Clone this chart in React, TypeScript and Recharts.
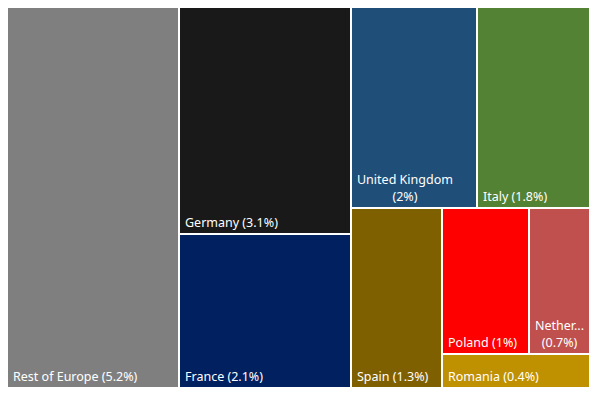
import { Treemap } from "recharts";

const countries = [
  "Rest of Europe",
  "Germany",
  "France",
  "United Kingdom",
  "Italy",
  "Spain",
  "Poland",
  "Netherlands",
  "Romania",
];
const shares = [5.2, 3.1, 2.1, 2, 1.8, 1.3, 1, 0.7, 0.4];
const colors = [
  "#7f7f7f",
  "#191919",
  "#002060",
  "#1f4e79",
  "#548235",
  "#7f6000",
  "#ff0000",
  "#c0504d",
  "#bf9000",
];
// how the tiles are grouped (indices into the arrays above), like Excel's layout
type Group = number | Group[];
const grouping: Group[] = [0, [1, 2], [[3, 4], [5, [[6, 7], 8]]]];

type Node = { name: string; value?: number; color?: string; children?: Node[] };

const build = (g: Group, i: number): Node =>
  typeof g === "number"
    ? { name: countries[g], value: shares[g], color: colors[g] }
    : { name: `group-${i}`, children: g.map((c, j) => build(c, j)) };

const data = grouping.map((g, i) => build(g, i));

const FONT_SIZE = 12.5;
const FONT_FAMILY = "'Noto Sans', 'Open Sans', sans-serif";
let ctx: CanvasRenderingContext2D | null = null;
const measure = (s: string) => {
  if (!ctx) {
    ctx = document.createElement("canvas").getContext("2d");
    if (ctx) ctx.font = `${FONT_SIZE}px ${FONT_FAMILY}`;
  }
  return ctx ? ctx.measureText(s).width : s.length * 6.5;
};

function wrapLabel(text: string, maxW: number) {
  if (measure(text) <= maxW) return [text];
  const words = text.split(" ");
  const lines: string[] = [];
  let cur = "";
  for (const w of words) {
    const next = cur ? `${cur} ${w}` : w;
    if (!cur || measure(next) <= maxW) cur = next;
    else {
      lines.push(cur);
      cur = w;
    }
  }
  if (cur) lines.push(cur);
  return lines.map((l) => {
    if (measure(l) <= maxW) return l;
    let t = l;
    while (t.length > 1 && measure(t + "...") > maxW) t = t.slice(0, -1);
    return t + "...";
  });
}

function Tile(props: any) {
  const { x, y, width, height, name, value, color } = props;
  if (!color) return <g />;
  const lines = wrapLabel(`${name} (${value}%)`, width - 10);
  const blockW = Math.max(...lines.map(measure));
  const cx = x + 6 + blockW / 2;
  const lineH = 17;
  const baseY = y + height - 7;
  return (
    <g>
      <rect x={x} y={y} width={width} height={height} fill={color} stroke="#fff" strokeWidth={2} />
      {lines.map((l, i) => (
        <text
          key={i}
          x={lines.length > 1 ? cx : x + 6}
          y={baseY - (lines.length - 1 - i) * lineH}
          textAnchor={lines.length > 1 ? "middle" : "start"}
          fill="#fff"
          fontSize={FONT_SIZE}
          fontFamily={FONT_FAMILY}
        >
          {l}
        </text>
      ))}
    </g>
  );
}

export default function App() {
  return (
    <div style={{ marginLeft: -1, marginTop: -1, width: 583, height: 381 }}>
      <Treemap
        width={583}
        height={381}
        data={data}
        dataKey="value"
        aspectRatio={0.3}
        isAnimationActive={false}
        content={(p: any) => <Tile {...p} />}
      />
    </div>
  );
}
